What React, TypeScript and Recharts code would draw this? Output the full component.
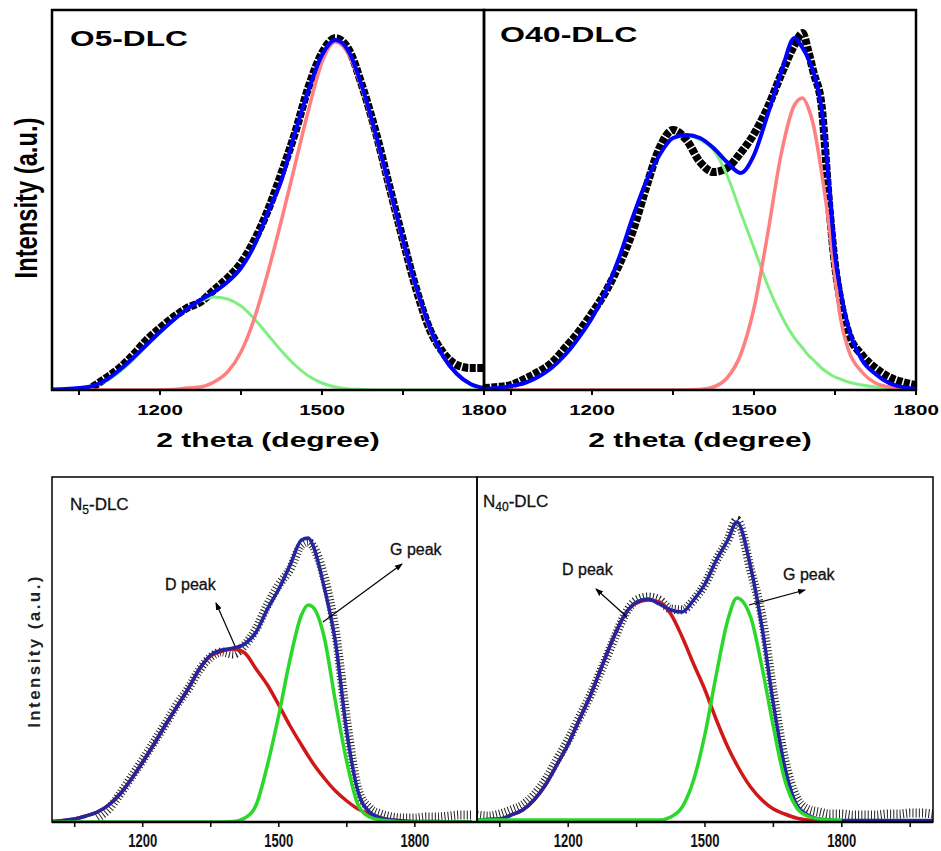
import React from 'react';
import { LineChart, Line, XAxis, YAxis } from 'recharts';

const FONT = "'Liberation Sans', Arial, Helvetica, sans-serif";

// ---------- O5-DLC (top left) ----------
const o5X = [1000,1025,1050,1075,1100,1125,1150,1175,1200,1225,1250,1275,1300,1325,1350,1375,1400,1425,1450,1475,1500,1525,1550,1575,1600,1625,1650,1675,1700,1725,1750,1775,1800];
const o5Data = [null,null,null,3,12,22,35,50,62,73,82,88,100,112,127,150,180,217,257,303,337,352,340,303,257,203,150,100,60,37,25,22,22];
const o5Fit = [0.5,1,2,4,10,20,32,45,58,70,81,90,98,108,122,145,178,210,257,300,335,350,338,302,255,203,150,102,62,33,16,6,2];
const o5G = [0,0,0,0,0,0,0,0,0,0.5,2,3,8,18,38,72,118,170,225,280,328,348,335,300,253,200,148,100,60,33,16,6,2];
const o5D = [0,0.5,1,4,9,18,30,44,57,70,81,89,93,91,84,71,55,39,25,14,7,3,1,0.5,0,0,0,0,0,0,0,0,0];

// ---------- O40-DLC (top right) ----------
const o40X = [1000,1025,1050,1075,1100,1125,1150,1175,1200,1225,1250,1275,1300,1325,1350,1375,1400,1425,1450,1475,1500,1525,1550,1575,1590,1600,1610,1625,1640,1650,1660,1675,1700,1725,1750,1775,1800];
const o40Data = [2,3,5,11,18,27,42,58,77,98,125,158,202,242,260,250,228,218,222,237,256,282,315,345,357,340,318,285,180,125,90,57,35,22,13,8,5];
const o40Fit = [1,2,4,7,13,22,35,52,72,98,132,172,208,235,252,255,252,242,228,217,235,275,317,352,342,332,318,282,200,135,100,62,30,16,7,3,1];
const o40G = [0,0,0,0,0,0,0,0,0,0,0,0,0,0,0,0,0.5,3,12,35,82,155,235,285,292,283,265,218,160,112,72,40,18,7,3,1,0.5];
const o40D = [1,2,4,7,13,22,35,52,72,98,132,172,208,235,252,255,250,240,215,178,142,105,75,52,42,35,30,22,16,13,11,8,5,3,2,1,0.5];

// ---------- N5-DLC (bottom left) ----------
const n5X = [1000,1025,1050,1075,1100,1125,1150,1175,1200,1225,1250,1275,1300,1325,1350,1375,1400,1425,1450,1475,1500,1525,1550,1565,1575,1600,1625,1650,1675,1700,1725,1750,1775,1800,1825,1850,1875,1900,1925];
const n5Data = [null,null,null,null,4,13,28,45,62,80,98,117,133,152,165,170,168,177,193,217,237,253,277,280,276,245,190,100,32,14,8,5,4,4,5,5,6,7,7];
const n5Fit = [0.5,1.5,3,6,10,17,28,43,60,78,97,115,133,153,167,172,174,178,190,213,233,257,282,284,277,235,180,90,30,10,4,2,1,0.5,0.5,0.5,0,0,0];
const n5D = [0.5,1.5,3,6,10,17,28,43,60,78,97,115,133,153,166,171,173,169,153,137,117,96,77,66,59,44,31,21,13,8,4,2,1,0,0,0,0,0,0];
const n5G = [0,0,0,0,0,0,0,0,0,0,0,0,0,0,0,0,0.5,4,17,57,107,163,207,217,215,185,120,60,17,5,2,1,0,0,0,0,0,0,0];

// ---------- N40-DLC (bottom right) ----------
const n40X = [1000,1025,1050,1075,1100,1125,1150,1175,1200,1225,1250,1275,1300,1325,1350,1375,1400,1425,1450,1475,1500,1525,1550,1570,1600,1625,1650,1675,1700,1725,1750,1775,1800,1825,1850,1875,1900,1925,1950,1975,2000];
const n40Data = [7,6,8,12,17,27,42,62,82,105,128,155,182,208,222,225,222,213,212,222,238,262,282,302,252,205,128,62,25,13,10,8,8,7,7,7,8,8,9,9,8];
const n40Fit = [2,2.5,3,7,12,22,37,57,78,103,128,157,185,208,220,223,218,212,210,222,238,262,282,300,255,195,118,55,18,7,3,2,1.5,1.5,1.5,1.5,1.5,1.5,1.5,1.5,1.5];
const n40D = [2,2.5,3,7,12,22,37,57,78,103,128,157,185,208,219,222,220,208,185,158,132,102,75,57,35,22,13,8,4,2,1,0,0,null,null,null,null,null,null,null,null];
const n40G = [2,2,2,2,2,2,2,2,2,2,2,2,2,2,2,2,2,5,15,42,88,148,202,224,205,155,95,42,15,6,3,2,2,null,null,null,null,null,null,null,null];

// ---------- axes ----------
const topTicks = [1050,1200,1350,1500,1650,1800];
const topLabels = [1200,1500,1800];
const bottomTicksLeft = [1050,1200,1350,1500,1650,1800];
const bottomTicksRight = [1050,1200,1350,1500,1650,1800,1950];
const bottomLabels = [1200,1500,1800];

type Row = { x: number; data: number | null; fit: number | null; d: number | null; g: number | null };
const rowsOf = (xs: number[], data: (number | null)[], fit: (number | null)[], d: (number | null)[], g: (number | null)[]): Row[] =>
  xs.map((x, i) => ({ x, data: data[i], fit: fit[i], d: d[i], g: g[i] }));

const o5Rows = rowsOf(o5X, o5Data, o5Fit, o5D, o5G);
const o40Rows = rowsOf(o40X, o40Data, o40Fit, o40D, o40G);
const n5Rows = rowsOf(n5X, n5Data, n5Fit, n5D, n5G);
const n40Rows = rowsOf(n40X, n40Data, n40Fit, n40D, n40G);

const renderTopTick = (p: any) => {
  const v = p.payload && p.payload.value;
  if (!topLabels.includes(v)) return <g key={`tt${v}`} />;
  return (
    <text key={`tt${v}`} transform={`translate(${p.x},${p.y + 20}) scale(1.37,1)`} textAnchor="middle"
      fontFamily={FONT} fontWeight="bold" fontSize={15} fill="#000">{v}</text>
  );
};

const renderBottomTick = (p: any) => {
  const v = p.payload && p.payload.value;
  if (!bottomLabels.includes(v)) return <g key={`bt${v}`} />;
  return (
    <text key={`bt${v}`} transform={`translate(${p.x},${p.y + 20}) scale(1,1.4)`} textAnchor="middle"
      fontFamily={FONT} fontWeight="bold" fontSize={13} fill="#111">{v}</text>
  );
};

function TopPanel({ rows, left, width, ml, mr }: { rows: Row[]; left: number; width: number; ml: number; mr: number }) {
  return (
    <div style={{ position: 'absolute', left, top: 0 }}>
      <LineChart width={width} height={430} data={rows} margin={{ top: 10, right: mr, bottom: 10, left: ml }}>
        <XAxis dataKey="x" type="number" domain={[1000, 1800]} ticks={topTicks} interval={0} axisLine={false}
          tickLine={{ stroke: '#000', strokeWidth: 2 }} tickSize={5} tickMargin={0} height={30} tick={renderTopTick} allowDataOverflow />
        <YAxis hide type="number" domain={[0, 380]} allowDataOverflow />
        <Line dataKey="data" type="monotone" stroke="#000" strokeWidth={8} strokeDasharray="6 1.5" dot={false} isAnimationActive={false} />
        <Line dataKey="d" type="monotone" stroke="#80ee80" strokeWidth={3} dot={false} isAnimationActive={false} />
        <Line dataKey="g" type="monotone" stroke="#ff8080" strokeWidth={3.5} dot={false} isAnimationActive={false} />
        <Line dataKey="fit" type="monotone" stroke="#0000ff" strokeWidth={4} dot={false} isAnimationActive={false} />
      </LineChart>
    </div>
  );
}

function BottomPanel({ rows, left, width, ml, mr, domain, ticks }: { rows: Row[]; left: number; width: number; ml: number; mr: number; domain: [number, number]; ticks: number[] }) {
  return (
    <div style={{ position: 'absolute', left, top: 450 }}>
      <LineChart width={width} height={401} data={rows} margin={{ top: 27, right: mr, bottom: 0, left: ml }}>
        <XAxis dataKey="x" type="number" domain={domain} ticks={ticks} interval={0} axisLine={false}
          tickLine={{ stroke: '#000', strokeWidth: 1.5 }} tickSize={5} tickMargin={0} height={29} tick={renderBottomTick} allowDataOverflow />
        <YAxis hide type="number" domain={[0, 345]} allowDataOverflow />
        <Line dataKey="data" type="monotone" stroke="#222" strokeWidth={9} strokeDasharray="1 2.2" dot={false} isAnimationActive={false} />
        <Line dataKey="d" type="monotone" stroke="#d01818" strokeWidth={3.5} dot={false} isAnimationActive={false} />
        <Line dataKey="fit" type="monotone" stroke="#25259f" strokeWidth={3.5} dot={false} isAnimationActive={false} />
        <Line dataKey="g" type="monotone" stroke="#2ad82a" strokeWidth={3.5} dot={false} isAnimationActive={false} />
      </LineChart>
    </div>
  );
}

export default function App() {
  return (
    <div style={{ position: 'absolute', left: 0, top: 0, width: 941, height: 851, overflow: 'hidden', background: '#fff' }}>
      <TopPanel rows={o5Rows} left={0} width={520} ml={52} mr={36} />
      <TopPanel rows={o40Rows} left={464} width={477} ml={20} mr={25} />
      <BottomPanel rows={n5Rows} left={0} width={500} ml={52} mr={23} domain={[1000, 1937]} ticks={bottomTicksLeft} />
      <BottomPanel rows={n40Rows} left={457} width={484} ml={20} mr={8} domain={[1000, 2000]} ticks={bottomTicksRight} />

      <svg width={941} height={851} style={{ position: 'absolute', left: 0, top: 0, pointerEvents: 'none' }}>
        <defs>
          <marker id="ah" markerWidth={8} markerHeight={8} refX={7} refY={4} orient="auto" markerUnits="userSpaceOnUse">
            <path d="M0,1 L8,4 L0,7 z" fill="#000" />
          </marker>
        </defs>
        {/* frames */}
        <rect x={52} y={10} width={432} height={380} fill="none" stroke="#000" strokeWidth={2.5} />
        <rect x={484} y={10} width={432} height={380} fill="none" stroke="#000" strokeWidth={2.5} />
        <rect x={52} y={477} width={425} height={345} fill="none" stroke="#000" strokeWidth={1.5} />
        <rect x={477} y={477} width={456} height={345} fill="none" stroke="#000" strokeWidth={1.5} />
        <line x1={52} y1={822} x2={933} y2={822} stroke="#000" strokeWidth={2.5} />

        {/* top titles */}
        <text transform="translate(70,46) scale(1.44,1)" fontFamily={FONT} fontWeight="bold" fontSize={22} fill="#000">O5-DLC</text>
        <text transform="translate(500,42) scale(1.46,1)" fontFamily={FONT} fontWeight="bold" fontSize={22} fill="#000">O40-DLC</text>
        <text transform="translate(268,447) scale(1.5,1)" textAnchor="middle" fontFamily={FONT} fontWeight="bold" fontSize={20} fill="#000">2 theta (degree)</text>
        <text transform="translate(700,447) scale(1.5,1)" textAnchor="middle" fontFamily={FONT} fontWeight="bold" fontSize={20} fill="#000">2 theta (degree)</text>
        <text transform="translate(37,198) rotate(-90) scale(0.95,1.28)" textAnchor="middle" fontFamily={FONT} fontWeight="bold" fontSize={25} fill="#000">Intensity (a.u.)</text>

        {/* bottom titles */}
        <text transform="translate(40,651) rotate(-90)" textAnchor="middle" fontFamily={FONT} fontWeight="bold" fontSize={17} letterSpacing={2.4} fill="#222">Intensity (a.u.)</text>
        <text x={70} y={510} fontFamily={FONT} fontSize={17} fill="#111" stroke="#111" strokeWidth={0.3}>N<tspan fontSize={12} dy={4}>5</tspan><tspan dy={-4}>-DLC</tspan></text>
        <text x={483} y={507} fontFamily={FONT} fontSize={17} fill="#111" stroke="#111" strokeWidth={0.3}>N<tspan fontSize={12} dy={4}>40</tspan><tspan dy={-4}>-DLC</tspan></text>

        {/* annotations */}
        <text x={165} y={590} fontFamily={FONT} fontSize={16} fill="#111" stroke="#111" strokeWidth={0.3}>D peak</text>
        <text x={390} y={555} fontFamily={FONT} fontSize={16} fill="#111" stroke="#111" strokeWidth={0.3}>G peak</text>
        <text x={562} y={575} fontFamily={FONT} fontSize={16} fill="#111" stroke="#111" strokeWidth={0.3}>D peak</text>
        <text x={783} y={580} fontFamily={FONT} fontSize={16} fill="#111" stroke="#111" strokeWidth={0.3}>G peak</text>
        <line x1={235} y1={646} x2={216} y2={603} stroke="#000" strokeWidth={1.2} markerEnd="url(#ah)" />
        <line x1={323} y1={622} x2={402} y2={564} stroke="#000" strokeWidth={1.2} markerEnd="url(#ah)" />
        <line x1={627} y1={617} x2={596} y2={589} stroke="#000" strokeWidth={1.2} markerEnd="url(#ah)" />
        <line x1={749} y1={605} x2={805} y2={590} stroke="#000" strokeWidth={1.2} markerEnd="url(#ah)" />
      </svg>
    </div>
  );
}
